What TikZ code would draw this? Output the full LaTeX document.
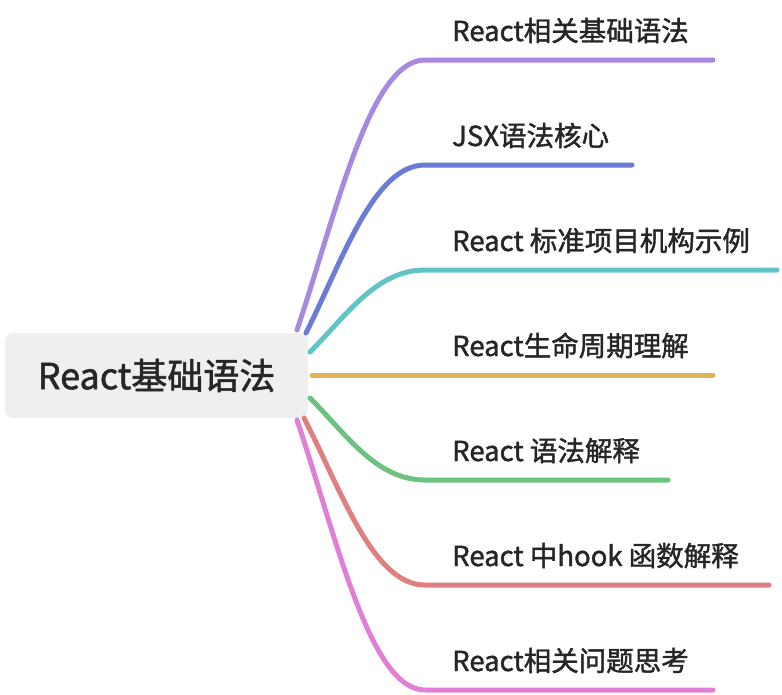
\documentclass[tikz,border=0pt]{standalone}
\usepackage{fontspec}
\newfontfamily\cjk{Noto Sans CJK SC}[FakeBold=1.5]
\usepackage{xcolor}
\usepackage{tikz}
\usetikzlibrary{positioning}
\definecolor{inkgray}{HTML}{262626}
\definecolor{rootfill}{HTML}{EEF0F0}
\definecolor{mmpurple}{HTML}{A78ADF}
\definecolor{mmblue}{HTML}{6A7CD8}
\definecolor{mmteal}{HTML}{62C4C4}
\definecolor{mmgold}{HTML}{DFB45A}
\definecolor{mmgreen}{HTML}{6CC27E}
\definecolor{mmred}{HTML}{E07F7F}
\definecolor{mmpink}{HTML}{DF7FD6}
\tikzset{
    mindmap/.style={x=1pt, y=-1pt, text=inkgray},
    mindmap root/.style={rounded corners=8pt, fill=rootfill, inner sep=0pt,
        minimum width=303pt, minimum height=85pt,
        font=\cjk\fontsize{36}{40}\selectfont},
    mindmap label/.style={anchor=base west, inner sep=0pt,
        font=\cjk\fontsize{27.5}{32}\selectfont},
    mindmap branch/.style={line width=5pt, line cap=round},
}

\begin{document}
\begin{tikzpicture}[
    mindmap,
    topic/.style={mindmap label},
    branch/.style={mindmap branch}
  ]
    \useasboundingbox (0,0) rectangle (782,694);

    \node[mindmap root] (root) at (156.5,375.5) {React基础语法};

    \coordinate (basicsfrom) at (297,330);
    \coordinate (basicsturn) at (425,60);
    \coordinate (basicsto) at (713,60);
    \node[topic] (basics) at (452,41) {React相关基础语法};

    \coordinate (jsxfrom) at (306,333);
    \coordinate (jsxturn) at (425,165);
    \coordinate (jsxto) at (632,165);
    \node[topic] (jsx) at (452,146) {JSX语法核心};

    \coordinate (layoutfrom) at (310,352);
    \coordinate (layoutturn) at (425,270);
    \coordinate (layoutto) at (777,270);
    \node[topic] (layout) at (452,251) {React 标准项目机构示例};

    \coordinate (lifefrom) at (312,375);
    \coordinate (lifeto) at (713,375);
    \node[topic] (life) at (452,356) {React生命周期理解};

    \coordinate (syntaxfrom) at (310,398);
    \coordinate (syntaxturn) at (425,480);
    \coordinate (syntaxto) at (668,480);
    \node[topic] (syntax) at (452,461) {React 语法解释};

    \coordinate (hookfrom) at (304,418);
    \coordinate (hookturn) at (425,585);
    \coordinate (hookto) at (769,585);
    \node[topic] (hook) at (452,566) {React 中hook 函数解释};

    \coordinate (faqfrom) at (297,420);
    \coordinate (faqturn) at (425,690);
    \coordinate (faqto) at (713,690);
    \node[topic] (faq) at (452,671) {React相关问题思考};

    \draw[branch, mmpurple] (basicsfrom) .. controls +(40,-119) and +(-55,0) .. (basicsturn) -- (basicsto);
    \draw[branch, mmblue] (jsxfrom) .. controls +(37,-74) and +(-51,0) .. (jsxturn) -- (jsxto);
    \draw[branch, mmteal] (layoutfrom) .. controls +(36,-36) and +(-49,0) .. (layoutturn) -- (layoutto);
    \draw[branch, mmgold] (lifefrom) -- (lifeto);
    \draw[branch, mmgreen] (syntaxfrom) .. controls +(36,36) and +(-49,0) .. (syntaxturn) -- (syntaxto);
    \draw[branch, mmred] (hookfrom) .. controls +(38,74) and +(-52,0) .. (hookturn) -- (hookto);
    \draw[branch, mmpink] (faqfrom) .. controls +(40,119) and +(-55,0) .. (faqturn) -- (faqto);
  \end{tikzpicture}
\end{document}
